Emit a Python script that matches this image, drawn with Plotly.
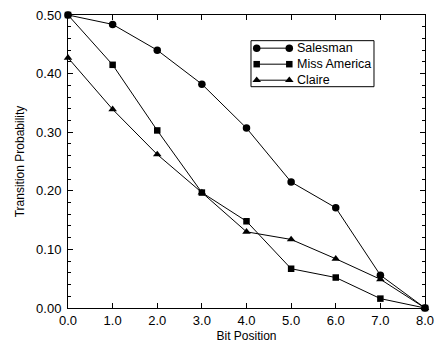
import plotly.graph_objects as go

bit_position = [0, 1, 2, 3, 4, 5, 6, 7, 8]
salesman = [0.500, 0.484, 0.440, 0.382, 0.307, 0.215, 0.171, 0.056, 0.0]
miss_america = [0.500, 0.415, 0.303, 0.197, 0.148, 0.067, 0.052, 0.016, 0.0]
claire = [0.427, 0.339, 0.262, 0.197, 0.130, 0.117, 0.084, 0.049, 0.0]
series_names = ["Salesman", "Miss America", "Claire"]

symbols = ["circle", "square", "triangle-up"]
sizes = [7.5, 6.5, 7.5]

font = dict(family="Liberation Sans, Arial, sans-serif", size=12, color="black")
tick_font = dict(family="Liberation Sans, Arial, sans-serif", size=13, color="black")
legend_font = dict(family="Liberation Sans, Arial, sans-serif", size=12.5, color="black")

fig = go.Figure()
for name, vals, sym, sz in zip(series_names, [salesman, miss_america, claire], symbols, sizes):
    fig.add_trace(go.Scatter(
        x=bit_position, y=vals, name=name, mode="lines+markers",
        line=dict(color="black", width=1),
        marker=dict(symbol=sym, size=sz, color="black"),
        cliponaxis=False, showlegend=False,
    ))

# custom legend drawn on a hidden helper axis pair (1 unit = 1 px)
LEG_W, LEG_H = 123, 46
row_step = 16
for i, (name, sym, sz) in enumerate(zip(series_names, symbols, sizes)):
    yc = LEG_H - 7.5 - i * row_step
    fig.add_trace(go.Scatter(
        x=[5.7, 38.3], y=[yc, yc], mode="lines+markers", xaxis="x2", yaxis="y2",
        line=dict(color="black", width=1),
        marker=dict(symbol=sym, size=sz, color="black"),
        cliponaxis=False, showlegend=False, hoverinfo="skip",
    ))
    fig.add_annotation(x=44, y=yc, xref="x2", yref="y2", text=name, showarrow=False,
                       xanchor="left", yanchor="middle", font=legend_font)

fig.add_shape(type="rect", xref="x2 domain", yref="y2 domain", x0=0, x1=1, y0=0, y1=1,
              line=dict(color="black", width=1), fillcolor="rgba(0,0,0,0)", layer="above")

fig.update_layout(
    width=435, height=346,
    margin=dict(l=68, r=10, t=15, b=38, autoexpand=False),
    paper_bgcolor="white", plot_bgcolor="white",
    font=font,
    showlegend=False,
    xaxis=dict(
        range=[0, 8], dtick=1, tickformat=".1f", tickfont=tick_font,
        automargin=False,
        showline=True, linecolor="black", linewidth=1, mirror="allticks",
        ticks="inside", ticklen=5, tickcolor="black",
        showgrid=False, zeroline=False,
        title=dict(text="Bit Position", standoff=5, font=font),
    ),
    yaxis=dict(
        range=[0, 0.5], dtick=0.1, tickformat=".2f", tickfont=tick_font,
        automargin=False, ticklabelstandoff=3,
        showline=True, linecolor="black", linewidth=1, mirror="allticks",
        ticks="inside", ticklen=5, tickcolor="black",
        minor=dict(dtick=0.02, ticks="inside", ticklen=3, tickcolor="black", showgrid=False),
        showgrid=False, zeroline=False,
        title=dict(text="Transition Probability", standoff=8, font=font),
    ),
    xaxis2=dict(domain=[0.5126, 0.8571], range=[0, LEG_W], visible=False, anchor="y2", fixedrange=True),
    yaxis2=dict(domain=[0.7553, 0.9124], range=[0, LEG_H], visible=False, anchor="x2", fixedrange=True),
)
fig.write_html("out.html", config={"displayModeBar": False},
               post_script="document.body.style.margin='0';document.body.style.padding='0';")
